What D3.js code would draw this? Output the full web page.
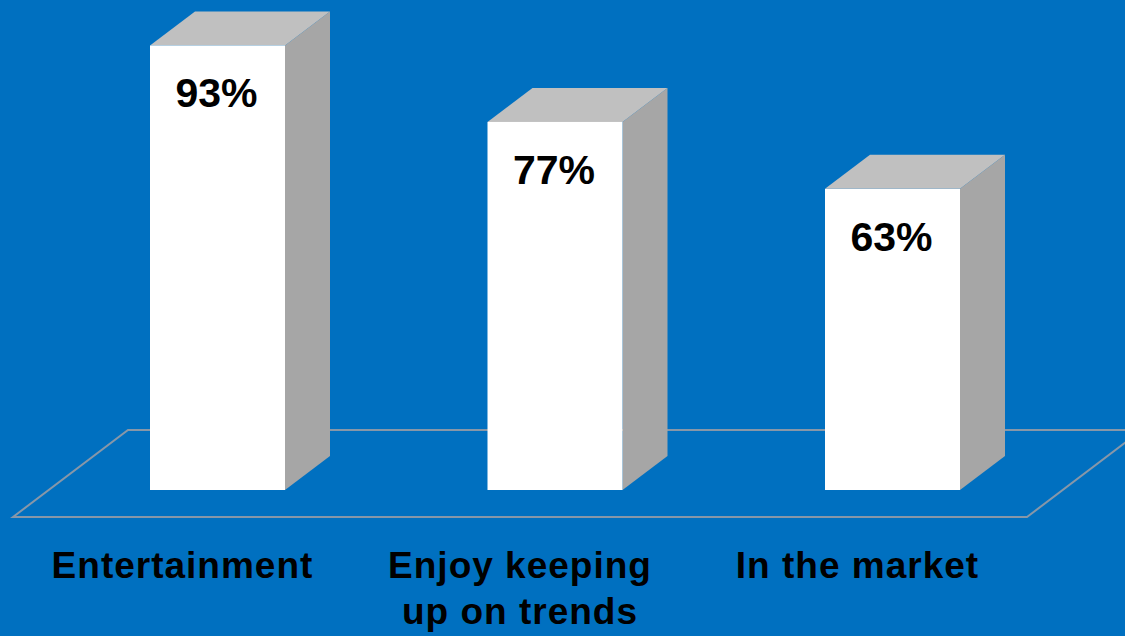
<!DOCTYPE html>
<html><head><meta charset="utf-8">
<script src="https://cdn.jsdelivr.net/npm/d3@7"></script>
<style>html,body{margin:0;padding:0;background:#0070C0;overflow:hidden}</style>
</head><body>
<svg id="c" width="1125" height="636"></svg>
<script>
const categories = ["Entertainment", "Enjoy keeping|up on trends", "In the market"];
const values = [93, 77, 63];
const valueLabels = ["93%", "77%", "63%"];

const W = 1125, H = 636;
const svg = d3.select("#c");
svg.append("rect").attr("width", W).attr("height", H).attr("fill", "#0070C0");

const x = d3.scaleBand().domain(categories).range([48.75, 1061.25]).paddingInner(0.6).paddingOuter(0.3);
const y = d3.scaleLinear().domain([0, 100]).range([490, 12]);
const dx = 45, dy = -34;

// floor
const fy0 = 517, fy1 = 430, fdx = 115;
svg.append("path")
  .attr("d", `M13,${fy0} L${13+fdx},${fy1} L${1027+fdx},${fy1} L1027,${fy0} Z`)
  .attr("fill", "none").attr("stroke", "#8797a8").attr("stroke-width", 2);

const g = svg.append("g");
categories.forEach((c, i) => {
  const x0 = x(c), w = x.bandwidth(), yt = y(values[i]), yb = y(0);
  // side
  g.append("path").attr("d", `M${x0+w},${yt} L${x0+w+dx},${yt+dy} L${x0+w+dx},${yb+dy} L${x0+w},${yb} Z`).attr("fill", "#A6A6A6");
  // top
  g.append("path").attr("d", `M${x0},${yt} L${x0+dx},${yt+dy} L${x0+w+dx},${yt+dy} L${x0+w},${yt} Z`).attr("fill", "#C0C0C0");
  // front
  g.append("rect").attr("x", x0).attr("y", yt).attr("width", w).attr("height", yb - yt).attr("fill", "#FFFFFF");
  // value label
  g.append("text").attr("x", x0 + w/2 - 1).attr("y", yt + 62).attr("text-anchor", "middle")
    .attr("font-family", "Liberation Sans, Arial, sans-serif").attr("font-weight", "bold").attr("font-size", 41)
    .attr("fill", "#000").text(valueLabels[i]);
  // category label
  const lines = c.split("|");
  const t = g.append("text").attr("text-anchor", "middle")
    .attr("font-family", "Liberation Sans, Arial, sans-serif").attr("font-weight", "bold").attr("font-size", 37)
    .attr("letter-spacing", 1)
    .attr("fill", "#000");
  lines.forEach((ln, j) => {
    t.append("tspan").attr("x", x0 + w/2 - 35).attr("y", 578 + j*46).text(ln);
  });
});
</script>
</body></html>
